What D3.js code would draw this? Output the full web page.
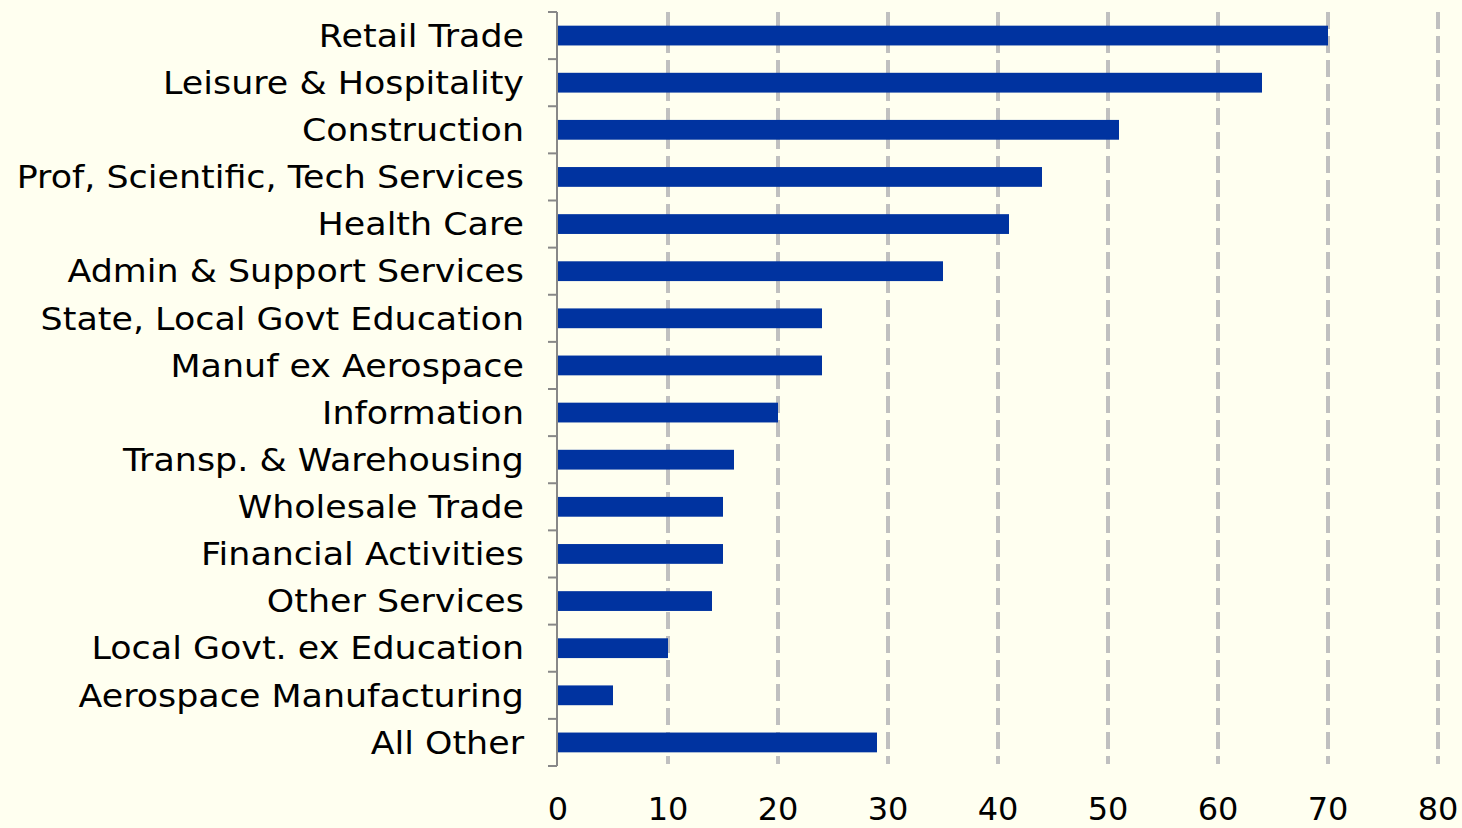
<!DOCTYPE html>
<html><head><meta charset="utf-8">
<script src="https://cdn.jsdelivr.net/npm/d3@7"></script>
<style>
html,body{margin:0;padding:0;background:#FFFFF0;}
svg{display:block;}
</style></head>
<body>
<svg id="c" width="1462" height="828"></svg>
<script>
const categories = ["Retail Trade","Leisure & Hospitality","Construction","Prof, Scientific, Tech Services","Health Care","Admin & Support Services","State, Local Govt Education","Manuf ex Aerospace","Information","Transp. & Warehousing","Wholesale Trade","Financial Activities","Other Services","Local Govt. ex Education","Aerospace Manufacturing","All Other"];
const values = [70,64,51,44,41,35,24,24,20,16,15,15,14,10,5,29];
const xTicks = [0,10,20,30,40,50,60,70,80];

(function(){
const svg = d3.select("#c");
const W = 1462, H = 828;
const pL = 558, pR = 1438, pT = 12, pB = 766;
svg.append("rect").attr("width",W).attr("height",H).attr("fill","#FFFFF0");

const x = d3.scaleLinear().domain([0,80]).range([pL,pR]);
const y = d3.scaleBand().domain(categories).range([pT,pB]).paddingInner(0.58).paddingOuter(0.29);

// gridlines
svg.append("g").selectAll("line").data(xTicks.filter(d=>d>0)).join("line")
  .attr("x1",d=>x(d)).attr("x2",d=>x(d)).attr("y1",pT).attr("y2",pB-2)
  .attr("stroke","#C0C0C0").attr("stroke-width",4).attr("stroke-dasharray","17,7");

// bars
svg.append("g").selectAll("rect").data(categories).join("rect")
  .attr("x",x(0)).attr("y",(d)=>y(d)).attr("height",y.bandwidth())
  .attr("width",(d,i)=>x(values[i])-x(0))
  .attr("fill","#0033A0");

// y axis line and ticks at band boundaries
const ax = svg.append("g");
ax.append("line").attr("x1",pL-1).attr("x2",pL-1).attr("y1",pT).attr("y2",pB)
  .attr("stroke","#888").attr("stroke-width",2);
const bounds = d3.range(categories.length+1).map(i=>pT + i*(pB-pT)/categories.length);
ax.selectAll("line.t").data(bounds).join("line").attr("class","t")
  .attr("x1",pL-10).attr("x2",pL-1).attr("y1",d=>d).attr("y2",d=>d)
  .attr("stroke","#888").attr("stroke-width",2);

// category labels
svg.append("g").selectAll("text").data(categories).join("text")
  .attr("transform",d=>`translate(524,${y(d)+y.bandwidth()/2}) scale(1.09,1)`)
  .attr("dy","0.35em").attr("text-anchor","end")
  .attr("font-family","DejaVu Sans, Verdana, sans-serif").attr("font-size",32)
  .attr("fill","#000").text(d=>d);

// x tick labels
svg.append("g").selectAll("text").data(xTicks).join("text")
  .attr("x",d=>x(d)).attr("y",809).attr("dy","0.35em").attr("text-anchor","middle")
  .attr("font-family","DejaVu Sans, Verdana, sans-serif").attr("font-size",32)
  .attr("fill","#000").text(d=>d);
})();
</script>
</body></html>
